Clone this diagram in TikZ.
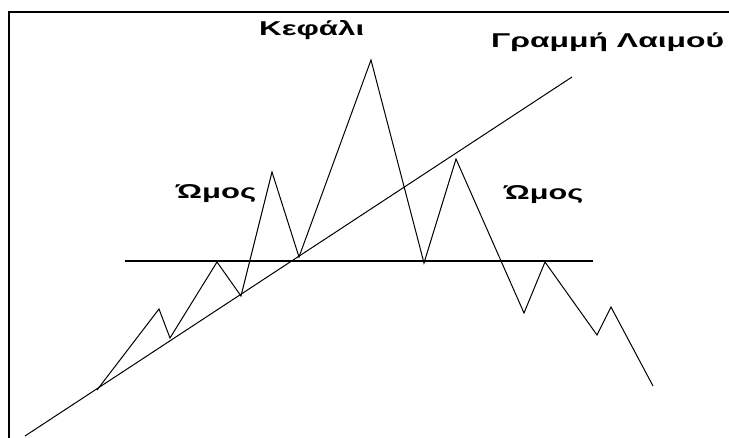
\documentclass[tikz,border=0pt]{standalone}
\usepackage{fontspec}
\setmainfont{Liberation Sans}
\usepackage{graphicx}
\newcommand\widetext[2]{\resizebox{#1}{\height}{#2}}
\begin{document}
\begin{tikzpicture}[x=1pt,y=-1pt,
  frameline/.style={line width=2pt,black},
  priceline/.style={line width=1pt,black,line join=miter},
  neckline/.style={line width=1pt,black},
  levelline/.style={line width=1.4pt,black},
  lbl/.style={anchor=base west,inner sep=0pt,font=\fontsize{20}{24}\selectfont\bfseries}]
\useasboundingbox (0,0) rectangle (729,438);
\fill[white] (0,0) rectangle (729,438);
% frame
\coordinate (f1) at (729,12);
\coordinate (f2) at (9,12);
\coordinate (f3) at (9,438);
\draw[frameline] (f1) -- (f2) -- (f3);
% horizontal level
\coordinate (h1) at (125,261);
\coordinate (h2) at (593,261);
\draw[levelline] (h1) -- (h2);
% neckline
\coordinate (n1) at (25,436);
\coordinate (n2) at (572,77);
\draw[neckline] (n1) -- (n2);
% price path
\coordinate (p0) at (97,390);
\coordinate (p1) at (159,309);
\coordinate (p2) at (170,338);
\coordinate (p3) at (217,262);
\coordinate (p4) at (241,296);
\coordinate (p5) at (272,172);
\coordinate (p6) at (299,257);
\coordinate (p7) at (371,60);
\coordinate (p8) at (424,263);
\coordinate (p9) at (456,159);
\coordinate (p10) at (524,313);
\coordinate (p11) at (545,262);
\coordinate (p12) at (597,335);
\coordinate (p13) at (611,307);
\coordinate (p14) at (653,386);
\draw[priceline] (p0) -- (p1) -- (p2) -- (p3) -- (p4) -- (p5) -- (p6) -- (p7) -- (p8) -- (p9) -- (p10) -- (p11) -- (p12) -- (p13) -- (p14);
% labels
\node[lbl] (head) at (259,35.5) {\widetext{105pt}{Κεφάλι}};
\node[lbl] (neck) at (491,47.5) {\widetext{233pt}{Γραμμή Λαιμού}};
\node[lbl] (lsh) at (176,198.5) {\widetext{80pt}{Ώμος}};
\node[lbl] (rsh) at (504,199.5) {\widetext{79pt}{Ώμος}};
\end{tikzpicture}
\end{document}
